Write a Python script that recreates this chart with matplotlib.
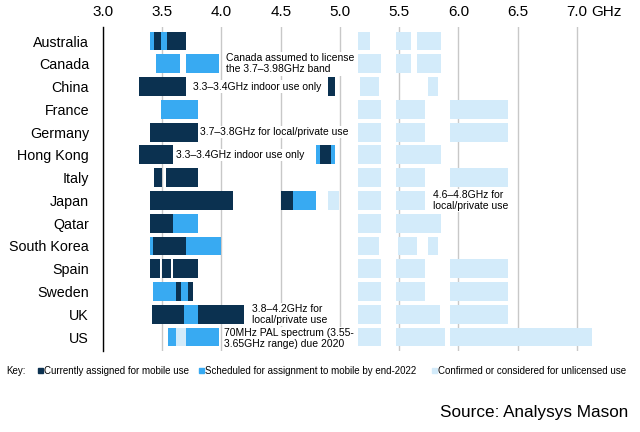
import matplotlib
matplotlib.use('Agg')
import matplotlib.pyplot as plt
import matplotlib.transforms as mtransforms
from matplotlib.patches import Rectangle

plt.rcParams['font.family'] = ['Liberation Sans', 'DejaVu Sans']

COUNTRIES = ['Australia', 'Canada', 'China', 'France', 'Germany', 'Hong Kong', 'Italy',
             'Japan', 'Qatar', 'South Korea', 'Spain', 'Sweden', 'UK', 'US']

# (country, start GHz, end GHz)
CURRENT = [
    ('Australia', 3.43, 3.49), ('Australia', 3.54, 3.70),
    ('China', 3.30, 3.70), ('China', 4.90, 4.96),
    ('Germany', 3.40, 3.80),
    ('Hong Kong', 3.30, 3.59), ('Hong Kong', 4.83, 4.92),
    ('Italy', 3.43, 3.50), ('Italy', 3.53, 3.80),
    ('Japan', 3.40, 4.10), ('Japan', 4.50, 4.60),
    ('Qatar', 3.40, 3.59),
    ('South Korea', 3.42, 3.70),
    ('Spain', 3.40, 3.48), ('Spain', 3.50, 3.57), ('Spain', 3.59, 3.80),
    ('Sweden', 3.62, 3.66), ('Sweden', 3.72, 3.76),
    ('UK', 3.41, 3.68), ('UK', 3.80, 4.19),
]

SCHEDULED = [
    ('Australia', 3.40, 3.43), ('Australia', 3.49, 3.54),
    ('Canada', 3.45, 3.65), ('Canada', 3.70, 3.98),
    ('France', 3.49, 3.80),
    ('Hong Kong', 4.80, 4.83), ('Hong Kong', 4.92, 4.96),
    ('Japan', 4.60, 4.80),
    ('Qatar', 3.59, 3.80),
    ('South Korea', 3.40, 3.42), ('South Korea', 3.70, 4.00),
    ('Sweden', 3.42, 3.62), ('Sweden', 3.66, 3.72),
    ('UK', 3.68, 3.80),
    ('US', 3.55, 3.62), ('US', 3.70, 3.98),
]

UNLICENSED = [
    ('Australia', 5.15, 5.25), ('Australia', 5.47, 5.60), ('Australia', 5.65, 5.85),
    ('Canada', 5.15, 5.35), ('Canada', 5.47, 5.60), ('Canada', 5.65, 5.85),
    ('China', 5.17, 5.33), ('China', 5.74, 5.83),
    ('France', 5.15, 5.35), ('France', 5.47, 5.72), ('France', 5.93, 6.42),
    ('Germany', 5.15, 5.35), ('Germany', 5.47, 5.72), ('Germany', 5.93, 6.42),
    ('Hong Kong', 5.15, 5.35), ('Hong Kong', 5.47, 5.85),
    ('Italy', 5.15, 5.35), ('Italy', 5.47, 5.72), ('Italy', 5.93, 6.42),
    ('Japan', 4.90, 4.99), ('Japan', 5.15, 5.35), ('Japan', 5.47, 5.72),
    ('Qatar', 5.15, 5.35), ('Qatar', 5.47, 5.85),
    ('South Korea', 5.15, 5.33), ('South Korea', 5.49, 5.65), ('South Korea', 5.74, 5.83),
    ('Spain', 5.15, 5.35), ('Spain', 5.47, 5.72), ('Spain', 5.93, 6.42),
    ('Sweden', 5.15, 5.35), ('Sweden', 5.47, 5.72), ('Sweden', 5.93, 6.42),
    ('UK', 5.15, 5.35), ('UK', 5.47, 5.84), ('UK', 5.93, 6.42),
    ('US', 3.62, 3.70), ('US', 5.15, 5.35), ('US', 5.47, 5.89), ('US', 5.93, 7.13),
]

# (country, GHz where the note starts, note)
NOTES = [
    ('Canada', 4.04, 'Canada assumed to license\nthe 3.7\u20133.98GHz band'),
    ('China', 3.76, '3.3\u20133.4GHz indoor use only'),
    ('Germany', 3.82, '3.7\u20133.8GHz for local/private use'),
    ('Hong Kong', 3.62, '3.3\u20133.4GHz indoor use only'),
    ('Japan', 5.785, '4.6\u20134.8GHz for\nlocal/private use'),
    ('UK', 4.26, '3.8\u20134.2GHz for\nlocal/private use'),
    ('US', 4.02, '70MHz PAL spectrum (3.55-\n3.65GHz range) due 2020'),
]

TICKS = [3.0, 3.5, 4.0, 4.5, 5.0, 5.5, 6.0, 6.5, 7.0]
TICK_LABELS = ['3.0', '3.5', '4.0', '4.5', '5.0', '5.5', '6.0', '6.5', '7.0']

LEGEND = ['Currently assigned for mobile use',
          'Scheduled for assignment to mobile by end-2022',
          'Confirmed or considered for unlicensed use']

DARK = '#0b3150'
BLUE = '#38aaf2'
PALE = '#d3ebfa'


def draw_segments(ax, segments, color):
    ys = [COUNTRIES.index(c) for c, _, _ in segments]
    lefts = [s for _, s, _ in segments]
    widths = [e - s for _, s, e in segments]
    ax.barh(ys, widths, left=lefts, height=0.83, color=color, zorder=2)


def main() -> None:
    fig = plt.figure(figsize=(6.4, 4.32), dpi=100)
    ax = fig.add_axes([0.1609, 0.1882, 0.7962, 0.7484])

    draw_segments(ax, UNLICENSED, PALE)
    draw_segments(ax, SCHEDULED, BLUE)
    draw_segments(ax, CURRENT, DARK)

    for country, x, note in NOTES:
        ax.text(x, COUNTRIES.index(country) + (0.08 if country == 'US' else 0), note,
                fontsize=7.5, va='center', ha='left', linespacing=1.15, zorder=3,
                bbox=dict(facecolor='white', edgecolor='none', pad=0.8))

    ax.set_xlim(3.0, 7.3)
    ax.set_ylim(13.6, -0.6)
    ax.set_xticks(TICKS, TICK_LABELS)
    ax.set_yticks(range(len(COUNTRIES)), COUNTRIES)
    ax.xaxis.tick_top()
    ax.tick_params(axis='x', length=0, pad=6, labelsize=11)
    ax.tick_params(axis='y', length=0, pad=10, labelsize=10.3)
    ax.grid(axis='x', color='#c8c8c8', linewidth=1)
    ax.set_axisbelow(True)
    for side in ['top', 'right', 'bottom']:
        ax.spines[side].set_visible(False)
    ax.spines['left'].set_linewidth(1.0)
    ax.spines['left'].set_zorder(4)

    ghz_trans = ax.get_xaxis_transform() + mtransforms.ScaledTranslation(
        10 / 72, 6 / 72, fig.dpi_scale_trans)
    ax.text(7.0, 1.0, 'GHz', transform=ghz_trans, fontsize=11, ha='left', va='bottom')

    # key row
    ky = 1 - 370.5 / 432
    fig.text(6 / 640, ky, 'Key:', fontsize=7, va='center')
    for (x0, label), color in zip([(38, LEGEND[0]), (199, LEGEND[1]), (432, LEGEND[2])],
                                  [DARK, BLUE, PALE]):
        fig.add_artist(Rectangle((x0 / 640, ky - 2.5 / 432), 5 / 640, 5 / 432,
                                 transform=fig.transFigure, color=color))
        fig.text((x0 + 6) / 640, ky, label, fontsize=7, va='center')

    fig.text(628 / 640, 1 - 416.5 / 432, 'Source: Analysys Mason', ha='right',
             va='baseline', fontsize=12.3)

    fig.savefig('out.png', dpi=100)


if __name__ == '__main__':
    main()
